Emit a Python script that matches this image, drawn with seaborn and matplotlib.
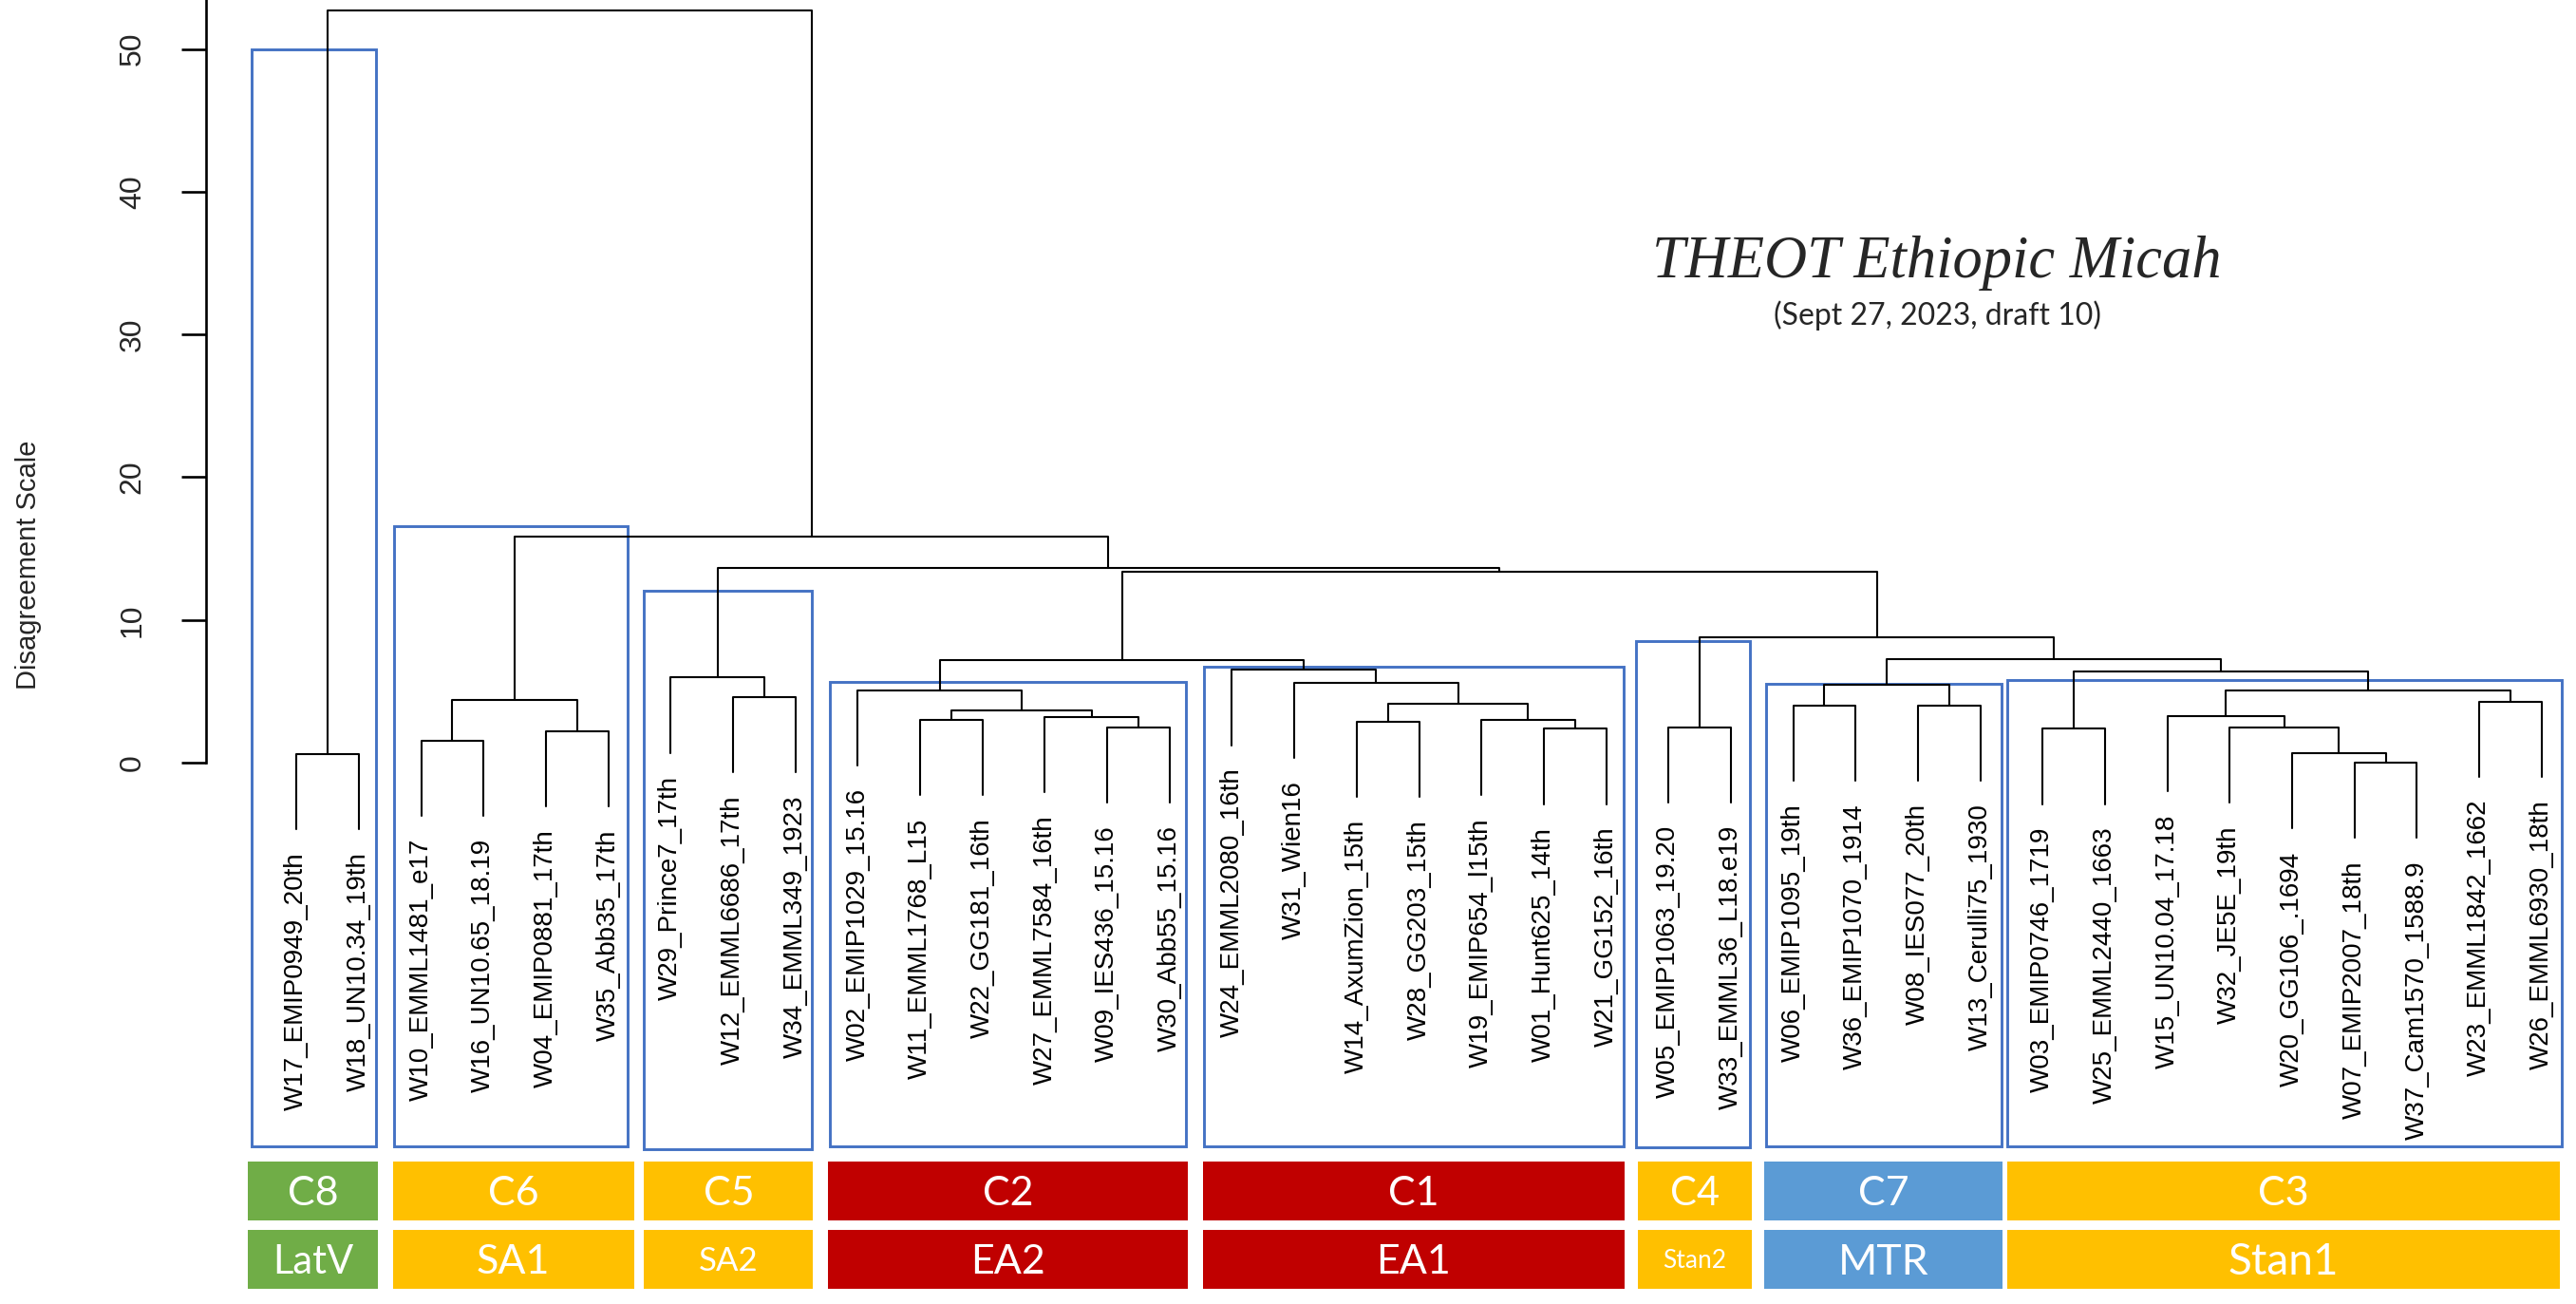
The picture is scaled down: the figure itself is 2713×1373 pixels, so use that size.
import pandas as pd
import matplotlib
matplotlib.use('Agg')
import matplotlib.pyplot as plt
import seaborn as sns

# leaves in plotted order
leaves = ['W17_EMIP0949_20th', 'W18_UN10.34_19th',
          'W10_EMML1481_e17', 'W16_UN10.65_18.19', 'W04_EMIP0881_17th', 'W35_Abb35_17th',
          'W29_Prince7_17th', 'W12_EMML6686_17th', 'W34_EMML349_1923',
          'W02_EMIP1029_15.16', 'W11_EMML1768_L15', 'W22_GG181_16th', 'W27_EMML7584_16th',
          'W09_IES436_15.16', 'W30_Abb55_15.16',
          'W24_EMML2080_16th', 'W31_Wien16', 'W14_AxumZion_15th', 'W28_GG203_15th',
          'W19_EMIP654_l15th', 'W01_Hunt625_14th', 'W21_GG152_16th',
          'W05_EMIP1063_19.20', 'W33_EMML36_L18.e19',
          'W06_EMIP1095_19th', 'W36_EMIP1070_1914', 'W08_IES077_20th', 'W13_Cerulli75_1930',
          'W03_EMIP0746_1719', 'W25_EMML2440_1663', 'W15_UN10.04_17.18', 'W32_JE5E_19th',
          'W20_GG106_.1694', 'W07_EMIP2007_18th', 'W37_Cam1570_1588.9',
          'W23_EMML1842_1662', 'W26_EMML6930_18th']

# hclust style merges: negative = leaf position, positive = earlier merge (1-based)
merge_a = [-1, -3, -5, 2, -8, -7, -11, -14, -13, 7, -10, -18, -21, -20, 12, -17, -16, 11,
           -23, -25, -27, 20, -29, -34, -33, -32, -31, -36, 27, 23, 22, 19, 18, 6, 4, 1]
merge_b = [-2, -4, -6, 3, -9, 5, -12, -15, 8, 9, 10, -19, -22, 13, 14, 15, 16, 17,
           -24, -26, -28, 21, -30, -35, 24, 25, 26, -37, 28, 29, 30, 31, 32, 33, 34, 35]
merge_h = [0.6, 1.56, 2.19, 4.41, 4.58, 5.97, 2.99, 2.48, 3.19, 3.65, 5.07, 2.89, 2.37, 2.99,
           4.15, 5.62, 6.5, 7.17, 2.48, 4.0, 4.0, 5.47, 2.37, 0.02, 0.66, 2.46, 3.25, 4.29,
           5.07, 6.36, 7.24, 8.79, 13.39, 13.66, 15.87, 52.7]

# cluster boxes (leaf units / height units)
box_left = [0.277, 2.568, 6.572, 9.549, 15.557, 22.486, 24.567, 28.439]
box_right = [2.279, 6.309, 9.260, 15.266, 22.275, 24.304, 28.334, 37.317]
box_top = [50.0, 16.6, 12.05, 5.69, 6.73, 8.54, 5.53, 5.76]
box_bottom = [-26.86, -26.86, -27.08, -26.86, -26.86, -26.97, -26.86, -26.86]

# coloured label rows
group_left = [0.224, 2.542, 6.572, 9.523, 15.530, 22.512, 24.540, 28.439]
group_right = [2.305, 6.414, 9.286, 15.294, 22.302, 24.330, 28.362, 37.293]
cluster_names = ['C8', 'C6', 'C5', 'C2', 'C1', 'C4', 'C7', 'C3']
group_names = ['LatV', 'SA1', 'SA2', 'EA2', 'EA1', 'Stan2', 'MTR', 'Stan1']
group_colors = ['#70AD47', '#FFC000', '#FFC000', '#C00000', '#C00000', '#FFC000', '#5B9BD5', '#FFC000']
cluster_sizes = [31, 31, 31, 31, 31, 30, 31, 31]
group_sizes = [30, 31, 25, 31, 31, 19, 32, 33]

sns.set_theme(style='white')
plt.rcParams['font.family'] = ['Liberation Sans', 'DejaVu Sans']

#Building the dendrogram segments
hang = 0.1 * max(merge_h)
center = {}
leaf_bottom = {}
rows = []
for k in range(len(merge_h)):
    h = merge_h[k]
    pts = []
    for ref in (merge_a[k], merge_b[k]):
        if ref < 0:
            x = -ref
            yb = h - hang
            leaf_bottom[x] = yb
        else:
            x = center[ref]
            yb = merge_h[ref - 1]
        pts.append((x, yb))
    center[k + 1] = (pts[0][0] + pts[1][0]) / 2
    path = [(pts[0][0], pts[0][1]), (pts[0][0], h), (pts[1][0], h), (pts[1][0], pts[1][1])]
    for x, y in path:
        rows.append({'seg': k, 'x': x, 'y': y})
segs = pd.DataFrame(rows)

fig = plt.figure(figsize=(27.13, 13.73), dpi=100)
left = 217.3 / 2713
ax = fig.add_axes([left, 0, 1 - left, 1])
ax.set_xlim(-0.446, 37.552)
ax.set_ylim(-37.92, 53.43)

sns.lineplot(data=segs, x='x', y='y', units='seg', estimator=None, sort=False,
             color='black', linewidth=1.5, ax=ax, legend=False)

#Cluster boxes
bl = pd.Series(box_left)
br = pd.Series(box_right)
ax.bar((bl + br) / 2, pd.Series(box_top) - pd.Series(box_bottom), width=br - bl,
       bottom=box_bottom, fill=False, edgecolor='#4472C4', linewidth=2.1)

#Coloured group rows
gl = pd.Series(group_left)
gr = pd.Series(group_right)
gc = (gl + gr) / 2
row1 = (-27.92, -32.07)
row2 = (-32.73, -36.84)
ax.bar(gc, row1[0] - row1[1], width=gr - gl, bottom=row1[1], color=group_colors, linewidth=0)
ax.bar(gc, row2[0] - row2[1], width=gr - gl, bottom=row2[1], color=group_colors, linewidth=0)
px_per_unit = 15.03
for i in range(len(gc)):
    c1 = (row1[0] + row1[1]) / 2
    c2 = (row2[0] + row2[1]) / 2
    ax.text(gc[i], c1 - 0.36 * cluster_sizes[i] * 100 / 72 / px_per_unit, cluster_names[i],
            ha='center', va='baseline', color='white', fontsize=cluster_sizes[i], family='Lato')
    ax.text(gc[i], c2 - 0.36 * group_sizes[i] * 100 / 72 / px_per_unit, group_names[i],
            ha='center', va='baseline', color='white', fontsize=group_sizes[i], family='Lato')

#Leaf labels
for i, lab in enumerate(leaves, start=1):
    ax.text(i, leaf_bottom[i] - 1.6, lab, rotation=90, ha='center', va='top',
            fontsize=20, color='black')

#Axis styling
for s in ['top', 'right', 'bottom']:
    ax.spines[s].set_visible(False)
ax.spines['left'].set_bounds(0, 53.43)
ax.spines['left'].set_linewidth(1.9)
ax.spines['left'].set_color('black')
ax.set_xticks([])
ax.set_yticks([0, 10, 20, 30, 40, 50])
ax.tick_params(axis='y', direction='out', length=19, width=1.9, color='black', pad=26, left=True)
for t in ax.get_yticklabels():
    t.set_rotation(90)
    t.set_va('center')
    t.set_fontsize(23)
ax.set_xlabel('')
ax.set_ylabel('')
ax.set_facecolor('white')

fig.text(30 / 2713, 1 - 595 / 1373, 'Disagreement Scale', rotation=90, ha='center', va='center',
         fontsize=21)
fig.text(2040 / 2713, 1 - 292 / 1373, 'THEOT Ethiopic Micah', ha='center', va='baseline',
         fontsize=45, family='Liberation Serif', style='italic')
fig.text(2040 / 2713, 1 - 342 / 1373, '(Sept 27, 2023, draft 10)', ha='center', va='baseline',
         fontsize=23, family='Lato')

plt.savefig('out.png', dpi=100, facecolor='white')
